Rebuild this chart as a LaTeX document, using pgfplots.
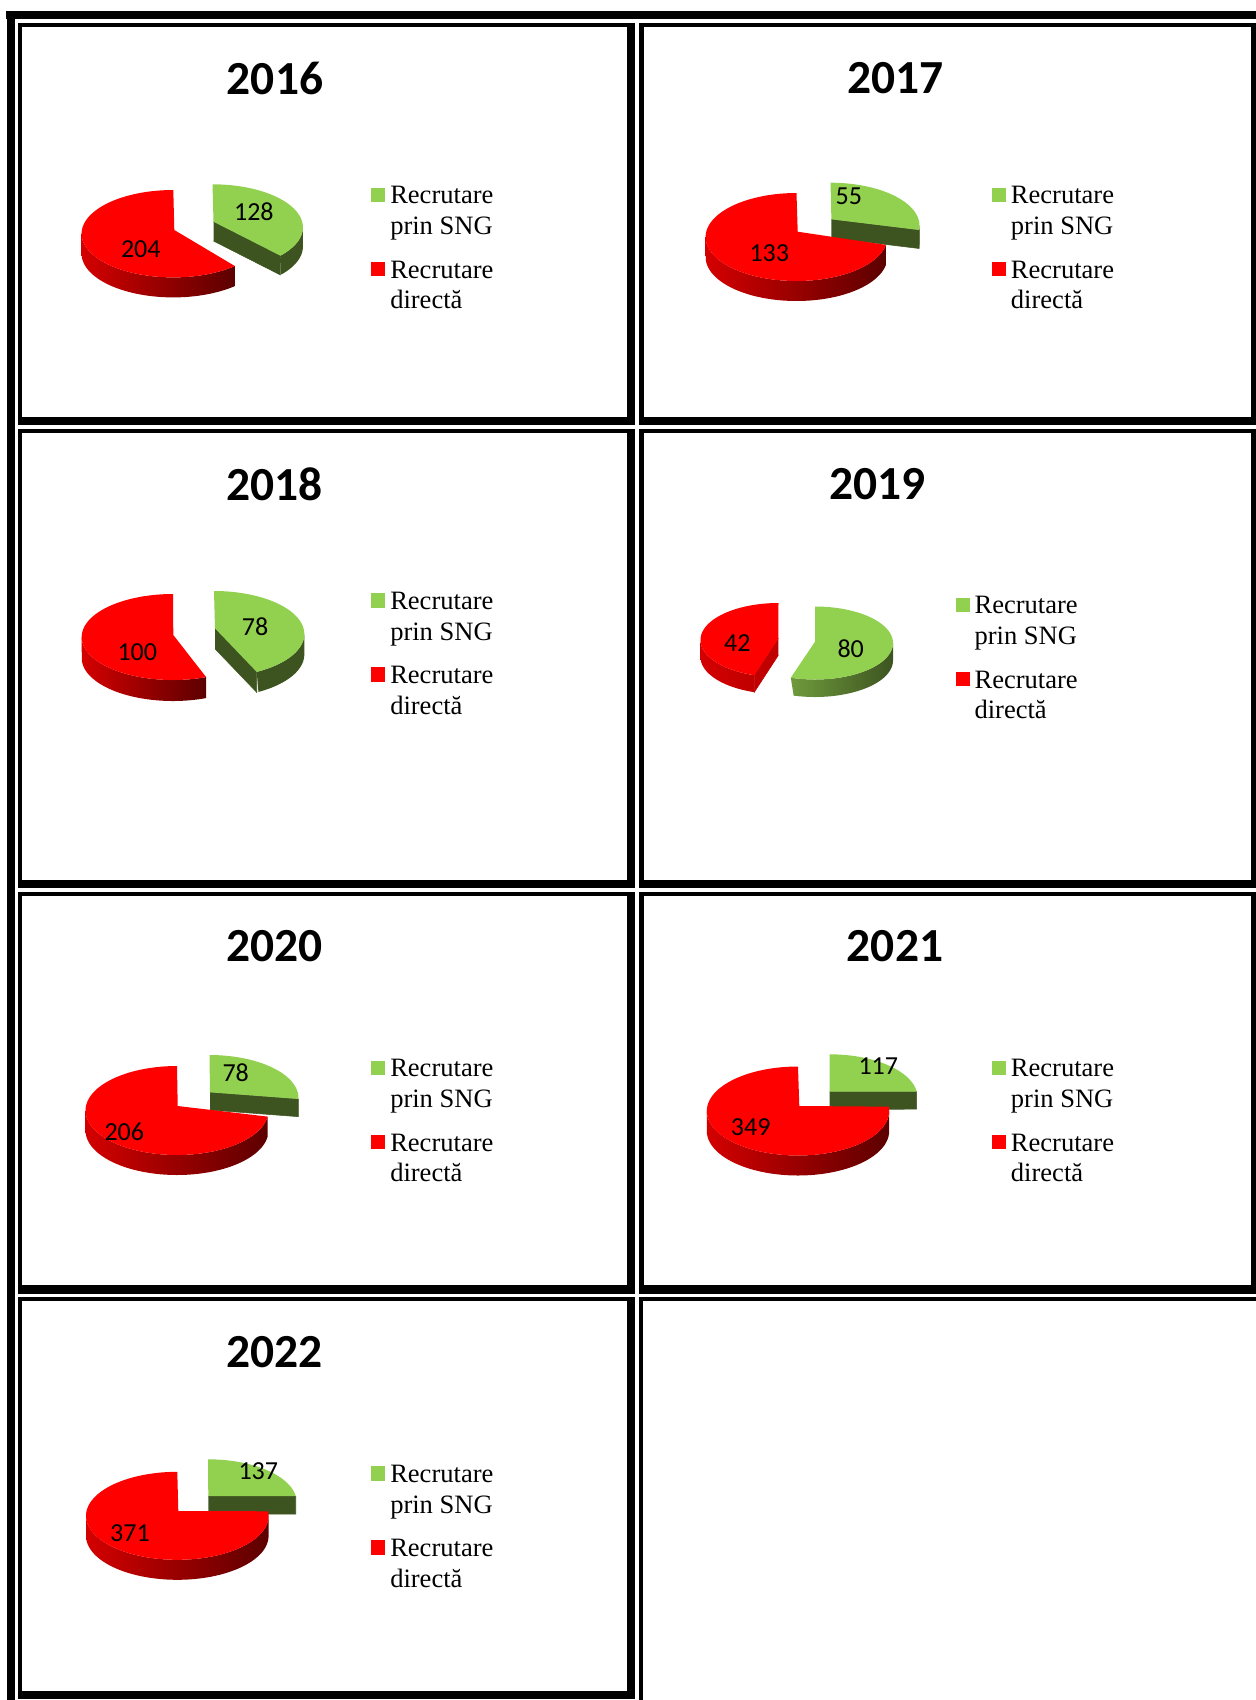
\documentclass[border=0pt]{standalone}
\usepackage{fontspec}
\setmainfont{Liberation Serif}
\newfontfamily\calfont{Carlito}
\usepackage{pgfplots}
\pgfplotsset{compat=1.18}
\definecolor{gr}{HTML}{92D050}
\definecolor{grd}{HTML}{3D5420}
\definecolor{grm}{HTML}{6F9A3C}
\definecolor{rd}{HTML}{FF0000}
\definecolor{rdl}{HTML}{D40000}
\definecolor{rdd}{HTML}{5C0000}
\definecolor{rdf}{HTML}{C00000}
% top face: ex ey a b t1 t2 apexx apexy colour
\newcommand\slicetop[9]{\addplot[draw=none,fill=#9,no markers,domain=-0.01:1,samples=102]
 ({ifthenelse(x<0,#7,#1+#3*sin((#5)+((#6)-(#5))*x))},{ifthenelse(x<0,#8,#2-#4*cos((#5)+((#6)-(#5))*x))});}
% outer rim: ex ey a b A B d left right
\newcommand\rim[9]{\addplot[draw=none,left color=#8,right color=#9,no markers,domain=0:2,samples=101]
 ({#1+#3*sin((#5)+((#6)-(#5))*min(x,2-x))},{#2-#4*cos((#5)+((#6)-(#5))*min(x,2-x))+ifthenelse(x>1.001,#7,0)});}
% cut face: ex ey a b t apexx apexy d colour
\newcommand\cutface[9]{\addplot[draw=#9,line width=0.4pt,fill=#9,no markers,samples at={0,1,2,3}]
 ({ifthenelse(x>0.5&&x<2.5,#1+#3*sin(#5),#6)},{ifthenelse(x>0.5&&x<2.5,#2-#4*cos(#5),#7)+ifthenelse(x>1.5,#8,0)});}
\newcommand\rbar[4]{\fill[black] (axis cs:#1,#2) rectangle (axis cs:#3,#4);}
\newcommand\tcell[8]{\rbar{#1}{#5}{#4}{#6}\rbar{#1}{#5}{#2}{#8}\rbar{#3}{#5}{#4}{#8}\rbar{#1}{#7}{#4}{#8}}
\newcommand\ttl[3]{\node[font=\calfont\bfseries\fontsize{35.6}{36}\selectfont,inner sep=0pt] at (axis cs:#1,#2) {#3};}
\newcommand\lab[3]{\node[font=\calfont\fontsize{19.5}{20}\selectfont,inner sep=0pt] at (axis cs:#1,#2) {#3};}
\newcommand\leg[8]{%
 \addplot[only marks,mark=square*,mark size=5.1pt,color=gr,mark options={fill=gr,draw=gr,line width=0pt}] coordinates {(#1,#7)};
 \addplot[only marks,mark=square*,mark size=5.1pt,color=rd,mark options={fill=rd,draw=rd,line width=0pt}] coordinates {(#1,#8)};
 \node[legt] at (axis cs:#2,#3) {Recrutare};
 \node[legt] at (axis cs:#2,#4) {prin SNG};
 \node[legt] at (axis cs:#2,#5) {Recrutare};
 \node[legt] at (axis cs:#2,#6) {directă};}
\begin{document}
\begin{tikzpicture}[legt/.style={anchor=base west,inner sep=0pt,font=\fontsize{19.9}{20}\selectfont}]
\path[use as bounding box] (0,0) rectangle (942pt,1275pt);
\begin{axis}[at={(0,0)},anchor=south west,scale only axis,width=942pt,height=1275pt,
 xmin=0,xmax=1256,ymin=0,ymax=1700,y dir=reverse,hide axis]
% table rules
\rbar{6}{11}{1256}{19}
\rbar{7}{11}{15}{1700}
\tcell{18}{22}{627}{635}{22.7}{26.7}{416.7}{425}
\tcell{639}{643.5}{1251}{1256}{22.7}{26.7}{416.7}{425}
\tcell{18}{22}{627}{635}{429}{433}{880}{887.7}
\tcell{639}{643.5}{1251}{1256}{429}{433}{880}{887.7}
\tcell{18}{22}{627}{635}{891.7}{895.5}{1285}{1293.7}
\tcell{639}{643.5}{1251}{1256}{891.7}{895.5}{1285}{1293.7}
\tcell{18}{22}{627}{635}{1297}{1301}{1691}{1699.3}
\rbar{639}{1297}{1256}{1301}
\rbar{639}{1297}{643}{1700}
% 2016: SNG 128, direct 204
\ttl{275}{78}{2016}
\rim{212.5}{227.3}{90.4}{43}{90}{360*128/332-7.5}{19.3}{grd}{grd}
\cutface{212.5}{227.3}{90.4}{43}{360*128/332-7.5}{213.5}{221.7}{19.3}{grd}
\slicetop{212.5}{227.3}{90.4}{43}{0}{360*128/332-7.5}{213.5}{221.7}{gr}
\rim{173.3}{233.7}{91.7}{43.7}{360*128/332-1}{270}{20}{rdl}{rdd}
\slicetop{173.3}{233.7}{91.7}{43.7}{360*128/332-1}{360}{174.3}{230}{rd}
\lab{253.9}{211.7}{128}\lab{140.8}{249.3}{204}
\leg{378}{390}{203.3}{234.3}{278}{308.5}{195}{269}
% 2017: SNG 55, direct 133
\ttl{895.4}{78}{2017}
\rim{830.5}{225.7}{89}{43}{90}{360*55/188-9.6}{18.5}{grd}{grd}
\cutface{830.5}{225.7}{89}{43}{360*55/188-9.6}{831.4}{219.3}{18.5}{grd}
\slicetop{830.5}{225.7}{89}{43}{0}{360*55/188-9.6}{831.4}{219.3}{gr}
\rim{796.5}{237}{90.9}{44}{360*55/188-5}{270}{20}{rdl}{rdd}
\slicetop{796.5}{237}{90.9}{44}{360*55/188-5}{360}{797.7}{231.7}{rd}
\lab{848.8}{196.7}{55}\lab{769.3}{253.3}{133}
\leg{999}{1010.7}{203.3}{234.3}{278}{308.5}{195}{269}
% 2018: SNG 78, direct 100
\ttl{274.6}{484}{2018}
\rim{214}{634}{90.3}{43}{90}{360*78/178-6}{20.5}{grd}{grd}
\cutface{214}{634}{90.3}{43}{360*78/178-6}{215}{628.3}{20.5}{grd}
\slicetop{214}{634}{90.3}{43}{0}{360*78/178-6}{215}{628.3}{gr}
\rim{173}{637}{91.3}{43}{360*78/178+1}{270}{21}{rdl}{rdd}
\slicetop{173}{637}{91.3}{43}{360*78/178+1}{360}{173.3}{635}{rd}
\lab{255}{626.7}{78}\lab{137.3}{651.7}{100}
\leg{378}{390}{609}{640}{683.7}{714.2}{600.7}{674.7}
% 2019: SNG 80, direct 42
\ttl{877.5}{484}{2019}
\rim{815}{643}{78}{36.5}{90}{360*80/122-38}{17.5}{grm}{grd}
\slicetop{815}{643}{78}{36.5}{0}{360*80/122-38}{815}{641.7}{gr}
\rim{778.5}{640}{78}{37}{360*80/122-38}{270}{17}{rdl}{rdf}
\cutface{778.5}{640}{78}{37}{360*80/122-38}{778.3}{638.3}{17}{rdf}
\slicetop{778.5}{640}{78}{37}{360*80/122-38}{360}{778.3}{638.3}{rd}
\lab{737.3}{643.3}{42}\lab{850.7}{648.3}{80}
\leg{963}{974.3}{613.3}{644.3}{688}{718.5}{605}{679}
% 2020: SNG 78, direct 206
\ttl{274.6}{946}{2020}
\cutface{209.5}{1098}{89}{43}{360*78/284-7.6}{210}{1092.3}{17.7}{grd}
\slicetop{209.5}{1098}{89}{43}{0}{360*78/284-7.6}{210}{1092.3}{gr}
\rim{177}{1110.5}{91.5}{44.5}{360*78/284-1}{270}{20}{rdl}{rdd}
\slicetop{177}{1110.5}{91.5}{44.5}{360*78/284-1}{360}{177.7}{1106}{rd}
\lab{235.7}{1072.3}{78}\lab{124.3}{1132.3}{206}
\leg{378}{390}{1076.4}{1107.4}{1151.1}{1181.6}{1068.1}{1142.1}
% 2021: SNG 117, direct 349
\ttl{895}{946}{2021}
\cutface{829.5}{1097.3}{88}{43}{360*117/466-8}{829.7}{1091.7}{17.6}{grd}
\slicetop{829.5}{1097.3}{88}{43}{0}{360*117/466-8}{829.7}{1091.7}{gr}
\rim{798}{1111}{91.2}{44.5}{90}{270}{20}{rdl}{rdd}
\slicetop{798}{1111}{91.2}{44.5}{360*117/466-6}{360}{799.3}{1106}{rd}
\lab{878.3}{1066}{117}\lab{750.7}{1126.7}{349}
\leg{999}{1010.7}{1076.4}{1107.4}{1151.1}{1181.6}{1068.1}{1142.1}
% 2022: SNG 137, direct 371
\ttl{274.6}{1352}{2022}
\cutface{208}{1502.3}{88.7}{43}{360*137/508-15.5}{208.3}{1496}{18}{grd}
\slicetop{208}{1502.3}{88.7}{43}{0}{360*137/508-15.5}{208.3}{1496}{gr}
\rim{177.3}{1515.8}{91.3}{44}{90}{270}{20}{rdl}{rdd}
\slicetop{177.3}{1515.8}{91.3}{44}{360*137/508-13}{360}{178.3}{1511}{rd}
\lab{258.3}{1471}{137}\lab{130}{1533.3}{371}
\leg{378}{390}{1482}{1513}{1556.7}{1587.2}{1473.7}{1547.7}
\end{axis}
\end{tikzpicture}
\end{document}
